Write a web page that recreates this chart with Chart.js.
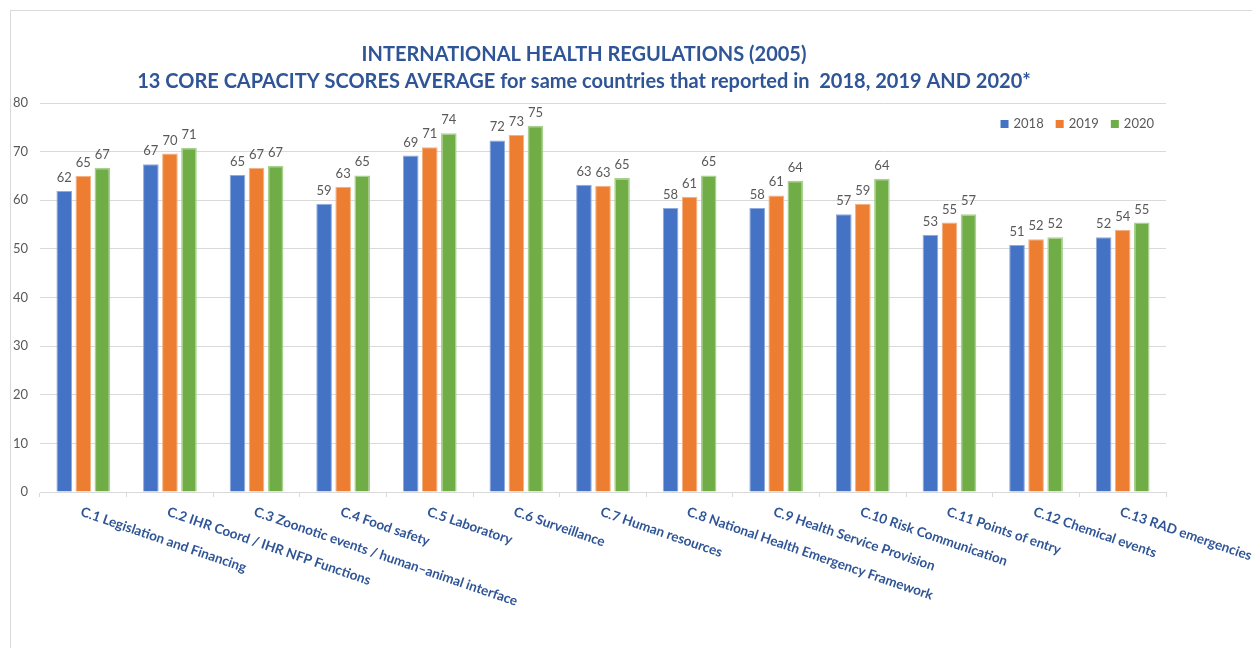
<!DOCTYPE html>
<html>
<head>
<meta charset="utf-8">
<title>IHR core capacity scores 2018-2020</title>
<script src="https://cdn.jsdelivr.net/npm/chart.js@4.4.0/dist/chart.umd.min.js"></script>
<style>
  html, body { margin: 0; padding: 0; background: #fff; }
</style>
</head>
<body>
<canvas id="ihrChart" width="1252" height="648"></canvas>
<script>
// core capacities and average scores per reporting year
const capacities = [
  'C.1 Legislation and Financing',
  'C.2 IHR Coord / IHR NFP Functions',
  'C.3 Zoonotic events / human\u2013animal interface',
  'C.4 Food safety',
  'C.5 Laboratory',
  'C.6 Surveillance',
  'C.7 Human resources',
  'C.8 National Health Emergency Framework',
  'C.9 Health Service Provision',
  'C.10 Risk Communication',
  'C.11 Points of entry',
  'C.12 Chemical events',
  'C.13 RAD emergencies'
];
const years = ['2018', '2019', '2020'];
const scores2018 = [61.9, 67.4, 65.2, 59.3, 69.2, 72.3, 63.2, 58.4, 58.4, 57.1, 52.9, 50.8, 52.4];
const scores2019 = [65.0, 69.6, 66.7, 62.8, 70.9, 73.4, 63.0, 60.7, 61.0, 59.3, 55.4, 52.0, 53.9];
const scores2020 = [66.7, 70.8, 67.1, 65.1, 73.8, 75.3, 64.6, 65.1, 64.0, 64.4, 57.1, 52.4, 55.4];
const yTicks = [0, 10, 20, 30, 40, 50, 60, 70, 80];
const titleLines = [
  'INTERNATIONAL HEALTH REGULATIONS (2005)',
  '13 CORE CAPACITY SCORES AVERAGE for same countries that reported in  2018, 2019 AND 2020*'
];

const FONT = 'Lato, "Open Sans", sans-serif';
const BLUE_TEXT = '#2f5597';
const GREY_TEXT = '#595959';
const GRID = '#d9d9d9';

// white background + thin frame round the chart
const framePlugin = {
  id: 'frame',
  beforeDraw(chart) {
    const ctx = chart.ctx;
    ctx.save();
    ctx.fillStyle = '#fff';
    ctx.fillRect(0, 0, chart.width, chart.height);
    ctx.strokeStyle = GRID;
    ctx.lineWidth = 1;
    ctx.strokeRect(10.5, 10.5, chart.width + 20, chart.height + 20);
    ctx.restore();
  }
};

// two-line heading
const headingPlugin = {
  id: 'heading',
  afterDraw(chart) {
    const ctx = chart.ctx;
    ctx.save();
    ctx.fillStyle = BLUE_TEXT;
    ctx.font = 'bold 20px ' + FONT;
    ctx.textAlign = 'center';
    ctx.textBaseline = 'middle';
    ctx.fillText(titleLines[0], 584, 55);
    ctx.fillText(titleLines[1], 584, 82);
    ctx.restore();
  }
};

// rounded value above each bar
const valueLabelPlugin = {
  id: 'valueLabels',
  afterDatasetsDraw(chart) {
    const ctx = chart.ctx;
    ctx.save();
    ctx.fillStyle = GREY_TEXT;
    ctx.font = '13px ' + FONT;
    ctx.textAlign = 'center';
    ctx.textBaseline = 'alphabetic';
    chart.data.datasets.forEach((ds, i) => {
      chart.getDatasetMeta(i).data.forEach((bar, j) => {
        ctx.fillText(String(Math.round(ds.data[j])), bar.x, bar.y - 9);
      });
    });
    ctx.restore();
  }
};

// slanted category names starting under each group
const categoryLabelPlugin = {
  id: 'categoryLabels',
  afterDraw(chart) {
    const xs = chart.scales.x;
    const ctx = chart.ctx;
    ctx.save();
    ctx.fillStyle = BLUE_TEXT;
    ctx.font = 'bold 13.5px ' + FONT;
    ctx.textAlign = 'left';
    ctx.textBaseline = 'top';
    capacities.forEach((name, j) => {
      const x = xs.getPixelForTick(j);
      ctx.save();
      ctx.translate(x, xs.top + 13);
      ctx.rotate(19 * Math.PI / 180);
      ctx.fillText(name, 0, 0);
      ctx.restore();
    });
    ctx.restore();
  }
};

// small legend in the top right corner of the plot
const cornerLegendPlugin = {
  id: 'cornerLegend',
  afterDraw(chart) {
    const ctx = chart.ctx;
    const area = chart.chartArea;
    ctx.save();
    ctx.font = '13px ' + FONT;
    ctx.textBaseline = 'middle';
    ctx.textAlign = 'left';
    const box = 8, gap = 5, spacing = 12;
    const widths = chart.data.datasets.map(ds => box + gap + ctx.measureText(ds.label).width);
    const total = widths.reduce((a, b) => a + b, 0) + spacing * (widths.length - 1);
    let x = area.right - 12 - total;
    const y = area.top + 21;
    chart.data.datasets.forEach((ds, i) => {
      ctx.fillStyle = ds.backgroundColor;
      ctx.fillRect(x, y - box / 2, box, box);
      ctx.fillStyle = GREY_TEXT;
      ctx.fillText(ds.label, x + box + gap, y);
      x += widths[i] + spacing;
    });
    ctx.restore();
  }
};

const ctx = document.getElementById('ihrChart').getContext('2d');
new Chart(ctx, {
  type: 'bar',
  data: {
    labels: capacities,
    datasets: [
      { label: years[0], data: scores2018, backgroundColor: '#4472c4', borderColor: '#8faadc', borderWidth: 1 },
      { label: years[1], data: scores2019, backgroundColor: '#ed7d31', borderColor: '#f4b183', borderWidth: 1 },
      { label: years[2], data: scores2020, backgroundColor: '#70ad47', borderColor: '#a9d18e', borderWidth: 1.5 }
    ]
  },
  options: {
    responsive: false,
    animation: false,
    categoryPercentage: 0.66,
    barPercentage: 0.82,
    layout: { padding: { left: 10, right: 86, top: 103, bottom: 0 } },
    plugins: {
      legend: { display: false },
      title: { display: false },
      tooltip: { enabled: false }
    },
    scales: {
      x: {
        ticks: { display: false },
        grid: { offset: true, drawOnChartArea: false, drawTicks: true, tickLength: 5, color: GRID },
        border: { display: true, color: GRID, width: 1 },
        afterFit(scale) { scale.height = 156; }
      },
      y: {
        min: 0,
        max: 80,
        afterBuildTicks(scale) { scale.ticks = yTicks.map(v => ({ value: v })); },
        ticks: { color: GREY_TEXT, font: { family: FONT, size: 13 }, padding: 12 },
        grid: { color: GRID, drawTicks: false },
        border: { display: false },
        afterFit(scale) { scale.width = 30; }
      }
    }
  },
  plugins: [framePlugin, headingPlugin, valueLabelPlugin, categoryLabelPlugin, cornerLegendPlugin]
});
</script>
</body>
</html>
